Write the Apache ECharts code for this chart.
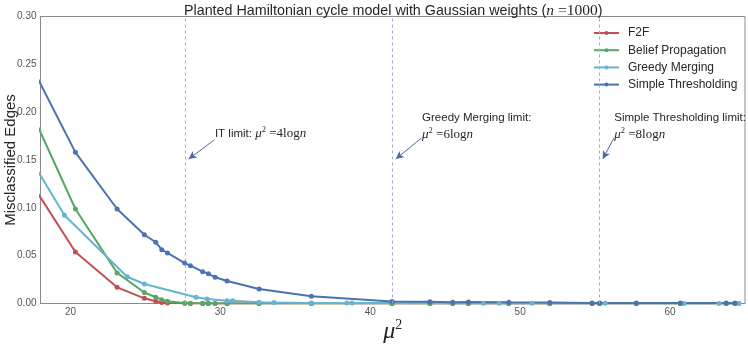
<!DOCTYPE html>
<html>
<head>
<meta charset="utf-8">
<script src="https://cdn.jsdelivr.net/npm/echarts@6/dist/echarts.min.js"></script>
<style>
  html, body { margin: 0; padding: 0; background: #ffffff; }
  #chart { width: 748px; height: 346px; }
</style>
</head>
<body>
<div id="chart"></div>
<script>
// mu^2 grid used for F2F, belief propagation and simple thresholding
const muSq = [17.3, 20.33, 23.11, 24.93, 25.69, 26.09, 26.47, 27.62, 28.0, 28.82, 29.2, 29.65, 30.45, 32.58, 36.07,
  41.45, 43.98, 45.5, 46.55, 49.24, 51.98, 54.8, 55.3, 57.75, 60.69, 63.75, 64.33];
const f2f = [0.128, 0.0538, 0.0169, 0.0054, 0.0023, 0.001, 0.0005, 0.0002, 0.0001, 0, 0, 0, 0, 0, 0,
  0, 0, 0, 0, 0, 0, 0, 0, 0, 0, 0, 0];
const beliefProp = [0.203, 0.0988, 0.0320, 0.0115, 0.0065, 0.004, 0.0023, 0.0005, 0.0003, 0.0002, 0.0001, 0.0001, 0.0001, 0, 0,
  0, 0, 0, 0, 0, 0, 0, 0, 0, 0, 0, 0];
const simpleThresh = [0.251, 0.158, 0.0988, 0.0719, 0.064, 0.0563, 0.0528, 0.0423, 0.0395, 0.0333, 0.0312, 0.0274, 0.0235, 0.0152, 0.0075,
  0.0022, 0.0018, 0.0013, 0.0015, 0.0012, 0.0011, 0.0006, 0.0006, 0.0005, 0.0005, 0.0004, 0.0004];

// greedy merging was run on its own grid
const muSqGreedy = [17.3, 19.6, 23.78, 24.93, 28.38, 29.11, 30.45, 30.82, 32.58, 33.58, 36.07, 38.44, 38.78,
  47.55, 48.6, 50.78, 55.67, 60.93, 63.27, 64.6];
const greedyMerging = [0.152, 0.0922, 0.028, 0.0204, 0.0065, 0.0047, 0.003, 0.003, 0.0013, 0.001, 0.0006, 0.0004, 0.0004,
  0.0003, 0.0003, 0.0002, 0.0002, 0.0001, 0.0001, 0.0001];

const xTicks = [20, 30, 40, 50, 60];

// mu^2 = c log n, n = 1000
const limitValues = [27.63, 41.45, 55.26];
const limitLabels = ['IT limit: ', 'Greedy Merging limit:', 'Simple Thresholding limit:'];
const limitFactors = ['4', '6', '8'];

const serif = 'Liberation Serif';
const sans = 'Liberation Sans';

function pairs(xs, ys) {
  return xs.map((x, i) => [x, ys[i]]);
}

function curve(name, color, xs, ys) {
  return {
    name: name,
    type: 'line',
    data: pairs(xs, ys),
    symbol: 'circle',
    symbolSize: 5,
    showSymbol: true,
    lineStyle: { width: 2, color: color },
    itemStyle: { color: color },
  };
}

const mathRich = {
  t: { fontFamily: sans, fontSize: 11.5, color: '#262626', lineHeight: 16 },
  m: { fontFamily: serif, fontStyle: 'italic', fontSize: 13, color: '#262626', lineHeight: 16 },
  s: { fontFamily: serif, fontSize: 8.5, color: '#262626', verticalAlign: 'top', lineHeight: 16 },
  r: { fontFamily: serif, fontSize: 13, color: '#262626', lineHeight: 16 },
};

// vertical dashed limit lines, arrows and their notes
const limitLines = limitValues.map((v) => ({
  xAxis: v,
  lineStyle: { type: [3, 3], color: '#a3a3e3', width: 1 },
}));
const arrows = limitValues.map((v, i) => [
  { coord: [v + (i === 2 ? 1.0 : 1.97), i === 0 ? 0.171 : 0.173] },
  { coord: [v + 0.25, 0.151], symbol: 'arrow' },
]);
const notes = limitValues.map((v, i) => ({
  coord: [v + (i === 2 ? 1.05 : 2.04), i === 0 ? 0.1855 : 0.2015],
  label: {
    formatter: '{t|' + limitLabels[i] + '}' + (i === 0 ? '' : '\n') +
      '{m|μ}{s|2}{r| =' + limitFactors[i] + 'log}{m|n}',
  },
}));

const chart = echarts.init(document.getElementById('chart'));

const option = {
  animation: false,
  title: {
    text: '{t|Planted Hamiltonian cycle model with Gaussian weights (}{m|n}{r| =1000}{t|)}',
    left: 184,
    top: 3,
    padding: 0,
    textStyle: {
      fontWeight: 'normal',
      rich: {
        t: { fontFamily: sans, fontSize: 14.3, fontWeight: 'normal', color: '#262626' },
        m: { fontFamily: serif, fontStyle: 'italic', fontWeight: 'normal', fontSize: 15.5, color: '#262626' },
        r: { fontFamily: serif, fontSize: 15.5, fontWeight: 'normal', color: '#262626' },
      },
    },
  },
  legend: {
    data: ['F2F', 'Belief Propagation', 'Greedy Merging', 'Simple Thresholding'],
    orient: 'vertical',
    left: 593,
    top: 27,
    padding: 0,
    itemWidth: 25,
    itemHeight: 5,
    itemGap: 5.2,
    textStyle: { fontFamily: sans, fontSize: 12, color: '#262626', padding: [0, 0, 0, 4] },
  },
  grid: {
    left: 40.5,
    right: 3,
    top: 16.5,
    bottom: 42.5,
    outerBoundsMode: 'none',
    containLabel: false,
    show: true,
    borderColor: '#8a8a8a',
    borderWidth: 1,
  },
  xAxis: {
    type: 'value',
    min: 18,
    max: 65,
    splitLine: { show: false },
    axisTick: { show: false },
    axisLine: { lineStyle: { color: '#8a8a8a', width: 1 } },
    axisLabel: {
      customValues: xTicks,
      color: '#555555',
      fontFamily: sans,
      fontSize: 10,
      margin: 4,
    },
    name: '{m|μ}{s|2}',
    nameLocation: 'middle',
    nameGap: 15,
    nameMoveOverlap: false,
    nameTextStyle: {
      rich: {
        m: { fontFamily: serif, fontStyle: 'italic', fontSize: 24, color: '#262626', lineHeight: 26 },
        s: { fontFamily: serif, fontSize: 14, color: '#262626', verticalAlign: 'top', lineHeight: 26 },
      },
    },
  },
  yAxis: {
    type: 'value',
    min: 0,
    max: 0.3,
    interval: 0.05,
    splitLine: { show: false },
    axisTick: { show: false },
    axisLine: { show: true, lineStyle: { color: '#8a8a8a', width: 1 } },
    axisLabel: {
      formatter: (v) => v.toFixed(2),
      color: '#555555',
      fontFamily: sans,
      fontSize: 10,
      margin: 4,
    },
    name: 'Misclassified Edges',
    nameLocation: 'middle',
    nameGap: 22,
    nameMoveOverlap: false,
    nameTextStyle: { fontFamily: sans, fontSize: 15, color: '#262626' },
  },
  series: [
    curve('F2F', '#c44e52', muSq, f2f),
    curve('Belief Propagation', '#55a868', muSq, beliefProp),
    curve('Greedy Merging', '#64b5cd', muSqGreedy, greedyMerging),
    curve('Simple Thresholding', '#4c72b0', muSq, simpleThresh),
    {
      name: 'limits',
      type: 'line',
      data: [],
      markLine: {
        silent: true,
        symbol: 'none',
        label: { show: false },
        symbolSize: [6, 8],
        lineStyle: { color: '#4a68a0', width: 1, type: 'solid' },
        data: limitLines.concat(arrows),
      },
      markPoint: {
        silent: true,
        symbol: 'circle',
        symbolSize: 1,
        itemStyle: { color: 'rgba(0,0,0,0)' },
        label: { show: true, position: [0, 0], rich: mathRich },
        data: notes,
      },
    },
  ],
};

chart.setOption(option);
</script>
</body>
</html>
